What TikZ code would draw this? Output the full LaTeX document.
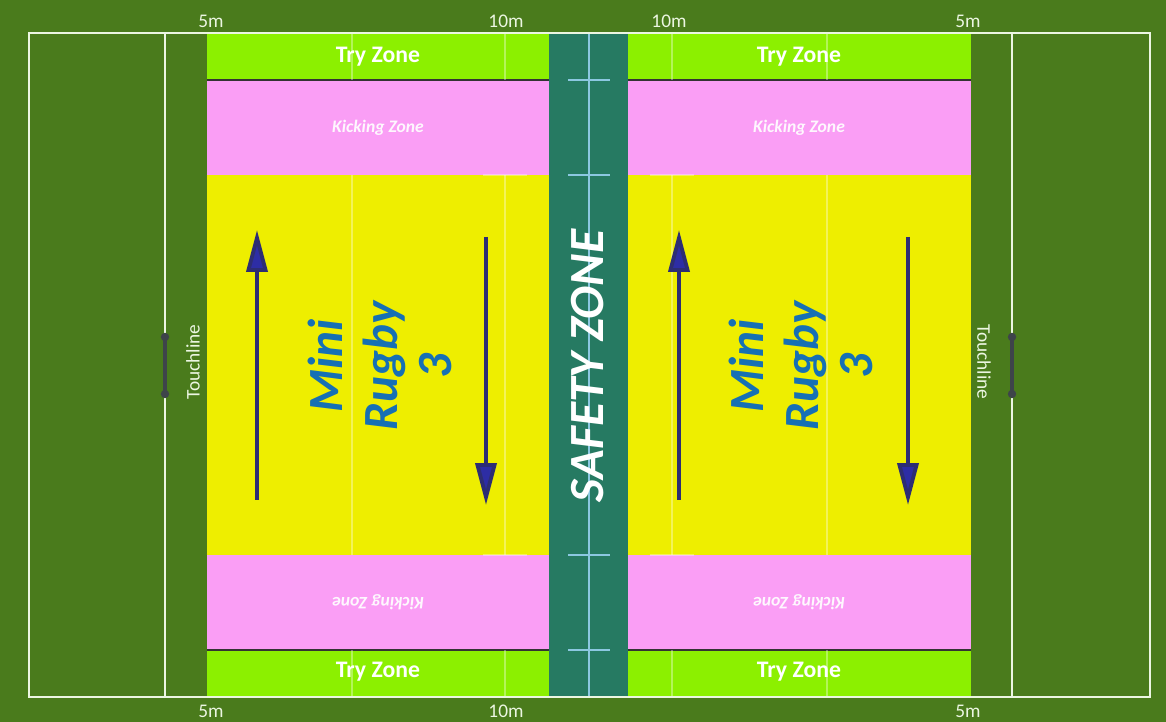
\documentclass[tikz,border=0pt]{standalone}
\usepackage{fontspec}
\setmainfont{Carlito}
\usepackage{xcolor}
\usepackage{tikz}
\usetikzlibrary{arrows.meta}

\definecolor{grassGreen}{RGB}{74,123,28}
\definecolor{tryGreen}{RGB}{140,240,0}
\definecolor{kickPink}{RGB}{250,158,245}
\definecolor{playYellow}{RGB}{238,238,0}
\definecolor{safeTeal}{RGB}{38,122,98}
\definecolor{midBlue}{RGB}{140,200,225}
\definecolor{chalk}{RGB}{236,246,226}
\definecolor{rugbyBlue}{RGB}{22,112,180}
\definecolor{arrowNavy}{RGB}{45,45,115}
\definecolor{arrowFill}{RGB}{45,45,165}
\definecolor{flagGrey}{RGB}{62,68,74}

\begin{document}
\begin{tikzpicture}[
        x=0.02cm, y=-0.02cm,
        chalkline/.style={draw=chalk, line width=1.5pt},
        zoneline/.style={draw=black!80, line width=1pt},
        faint/.style={draw=white, opacity=0.35, line width=0.8pt},
        midline/.style={draw=midBlue, line width=1.1pt},
        distlabel/.style={font=\fontsize{11}{13}\selectfont, text=chalk, inner sep=0pt},
        trylabel/.style={font=\bfseries\fontsize{13.5}{15}\selectfont, text=white},
        kicklabel/.style={font=\bfseries\itshape\fontsize{10}{12}\selectfont, text=white!92!kickPink},
        touchlabel/.style={font=\fontsize{11}{13}\selectfont, text=chalk},
        rugbylabel/.style={font=\bfseries\itshape\fontsize{28}{31}\selectfont, text=rugbyBlue, align=center, rotate=90},
        safelabel/.style={font=\bfseries\itshape\fontsize{28}{31}\selectfont, text=white, rotate=90},
        playarrow/.style={-{Triangle[length=8.4mm, width=4.2mm, fill=arrowFill]}, line width=2.2pt, draw=arrowNavy}
    ]

    \useasboundingbox (0,0) rectangle (1166,722);
    \fill[grassGreen] (0,0) rectangle (1166,722);

    % Playing halves
    \foreach \xa/\xb in {207/549, 628/971} {
        \fill[tryGreen] (\xa,33) rectangle (\xb,80);
        \fill[kickPink] (\xa,80) rectangle (\xb,175);
        \fill[playYellow] (\xa,175) rectangle (\xb,555);
        \fill[kickPink] (\xa,555) rectangle (\xb,650);
        \fill[tryGreen] (\xa,650) rectangle (\xb,697);
        \draw[zoneline] (\xa,80) -- (\xb,80);
        \draw[zoneline] (\xa,650) -- (\xb,650);
    }

    % Faint 5m and 10m lines
    \foreach \x in {352, 505, 672, 827} {
        \draw[faint] (\x,33) -- (\x,80);
        \draw[faint] (\x,175) -- (\x,555);
        \draw[faint] (\x,650) -- (\x,697);
    }
    \foreach \x in {505, 672} {
        \draw[faint] (\x-22,175) -- (\x+22,175);
        \draw[faint] (\x-22,555) -- (\x+22,555);
    }

    % Safety zone
    \fill[safeTeal] (549,33) rectangle (628,697);
    \draw[midline] (589,33) -- (589,697);
    \foreach \y in {80, 175, 555, 650}
        \draw[midline] (568,\y) -- (610,\y);

    % Pitch markings
    \draw[chalkline] (29,33) rectangle (1150,697);
    \draw[chalkline] (165,33) -- (165,697);
    \draw[chalkline] (1012,33) -- (1012,697);

    % Touchline flags
    \foreach \x in {165, 1012} {
        \draw[flagGrey, line width=2pt] (\x,337) -- (\x,394);
        \fill[flagGrey] (\x,337) circle (2.4pt);
        \fill[flagGrey] (\x,394) circle (2.4pt);
    }

    % Distance labels
    \node[distlabel] (top_5m_left) at (211,21) {5m};
    \node[distlabel] (top_10m_left) at (506,21) {10m};
    \node[distlabel] (top_10m_right) at (669,21) {10m};
    \node[distlabel] (top_5m_right) at (968,21) {5m};
    \node[distlabel] (bot_5m_left) at (211,711) {5m};
    \node[distlabel] (bot_10m_left) at (506,711) {10m};
    \node[distlabel] (bot_5m_right) at (968,711) {5m};

    % Zone labels
    \node[trylabel] (try_top_left) at (378,57) {Try Zone};
    \node[trylabel] (try_top_right) at (799,57) {Try Zone};
    \node[trylabel] (try_bot_left) at (378,672) {Try Zone};
    \node[trylabel] (try_bot_right) at (799,672) {Try Zone};
    \node[kicklabel] (kick_top_left) at (378,128) {Kicking Zone};
    \node[kicklabel] (kick_top_right) at (799,128) {Kicking Zone};
    \node[kicklabel, rotate=180] (kick_bot_left) at (378,602) {Kicking Zone};
    \node[kicklabel, rotate=180] (kick_bot_right) at (799,602) {Kicking Zone};

    % Touchline labels
    \node[touchlabel, rotate=90] (touch_left) at (193,362) {Touchline};
    \node[touchlabel, rotate=-90] (touch_right) at (984,362) {Touchline};

    % Game labels
    \node[rugbylabel] (game_left) at (380,366) {Mini\\Rugby\\3};
    \node[rugbylabel] (game_right) at (801,366) {Mini\\Rugby\\3};
    \node[safelabel] (safety) at (588,366) {SAFETY ZONE};

    % Direction of play
    \coordinate (up_left_from) at (257,500);
    \coordinate (up_left_to) at (257,230);
    \coordinate (down_left_from) at (486,237);
    \coordinate (down_left_to) at (486,505);
    \coordinate (up_right_from) at (679,500);
    \coordinate (up_right_to) at (679,230);
    \coordinate (down_right_from) at (908,237);
    \coordinate (down_right_to) at (908,505);
    \draw[playarrow] (up_left_from) -- (up_left_to);
    \draw[playarrow] (down_left_from) -- (down_left_to);
    \draw[playarrow] (up_right_from) -- (up_right_to);
    \draw[playarrow] (down_right_from) -- (down_right_to);

\end{tikzpicture}
\end{document}
